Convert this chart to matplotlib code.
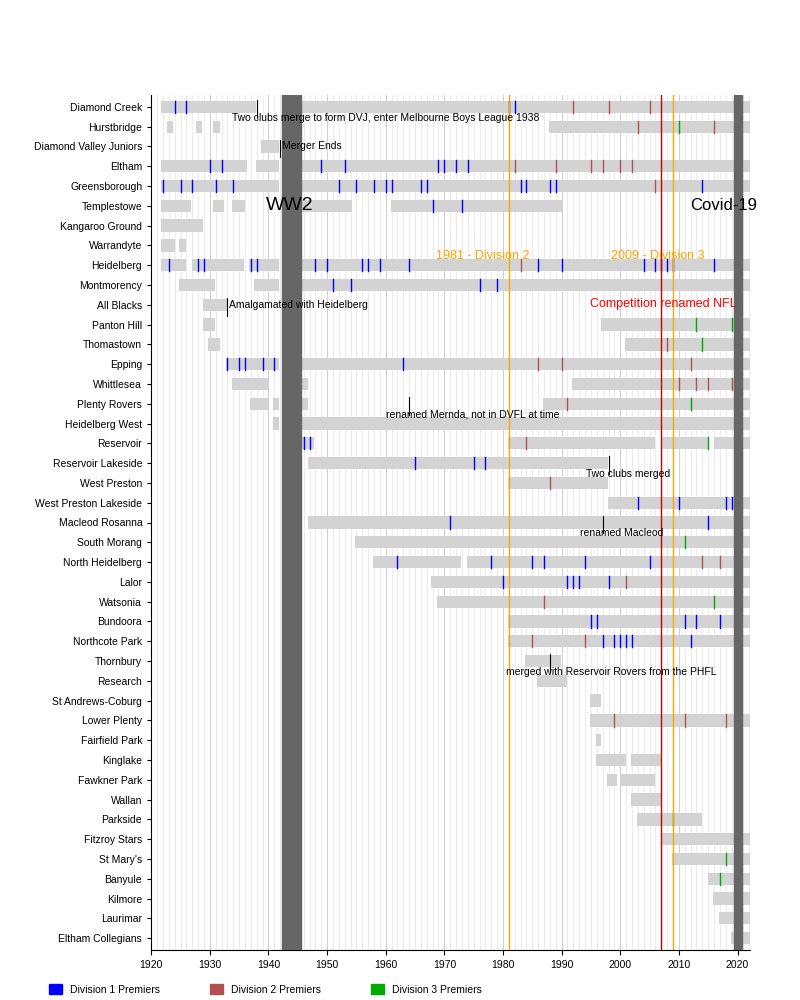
import matplotlib
matplotlib.use("Agg")
import matplotlib.pyplot as plt
from matplotlib.patches import Patch
plt.rcParams['font.family'] = ['Liberation Sans', 'DejaVu Sans']

clubs = ["Diamond Creek","Hurstbridge","Diamond Valley Juniors","Eltham","Greensborough","Templestowe",
 "Kangaroo Ground","Warrandyte","Heidelberg","Montmorency","All Blacks","Panton Hill","Thomastown",
 "Epping","Whittlesea","Plenty Rovers","Heidelberg West","Reservoir","Reservoir Lakeside","West Preston",
 "West Preston Lakeside","Macleod Rosanna","South Morang","North Heidelberg","Lalor","Watsonia","Bundoora",
 "Northcote Park","Thornbury","Research","St Andrews-Coburg","Lower Plenty","Fairfield Park","Kinglake",
 "Fawkner Park","Wallan","Parkside","Fitzroy Stars","St Mary's","Banyule","Kilmore","Laurimar","Eltham Collegians"]

seasons = {
 "Diamond Creek":[(1921.7,1937.8),(1945.6,2022.2)],
 "Hurstbridge":[(1922.7,1923.7),(1927.7,1928.7),(1930.5,1931.7),(1987.9,2022.2)],
 "Diamond Valley Juniors":[(1938.8,1941.8)],
 "Eltham":[(1921.7,1936.3),(1937.8,1941.8),(1945.6,2022.2)],
 "Greensborough":[(1921.7,1941.8),(1945.6,2022.2)],
 "Templestowe":[(1921.7,1926.8),(1930.5,1932.5),(1933.7,1936),(1945.6,1954.2),(1960.9,1990)],
 "Kangaroo Ground":[(1921.7,1928.9)],
 "Warrandyte":[(1921.7,1924),(1924.7,1926)],
 "Heidelberg":[(1921.7,1925.9),(1927,1935.8),(1936.6,1941.8),(1945.6,2022.2)],
 "Montmorency":[(1924.8,1930.9),(1937.5,1941.8),(1945.6,2022.2)],
 "All Blacks":[(1928.8,1932.9)],
 "Panton Hill":[(1928.8,1930.9),(1996.8,2022.2)],
 "Thomastown":[(1929.7,1931.8),(2000.8,2022.2)],
 "Epping":[(1932.8,1941.8),(1945.6,2022.2)],
 "Whittlesea":[(1933.8,1939.9),(1945.6,1946.8),(1991.8,2022.2)],
 "Plenty Rovers":[(1936.8,1939.9),(1940.8,1941.8),(1945.6,1946.8),(1986.8,2022.2)],
 "Heidelberg West":[(1940.8,1941.8),(1945.6,2022.2)],
 "Reservoir":[(1945.4,1947.8),(1980.9,2006),(2007,2015),(2016,2022.2)],
 "Reservoir Lakeside":[(1946.8,1997.9)],
 "West Preston":[(1980.9,1997.9)],
 "West Preston Lakeside":[(1997.9,2022.2)],
 "Macleod Rosanna":[(1946.8,2022.2)],
 "South Morang":[(1954.8,2022.2)],
 "North Heidelberg":[(1957.8,1972.9),(1973.8,2022.2)],
 "Lalor":[(1967.8,2022.2)],
 "Watsonia":[(1968.8,2022.2)],
 "Bundoora":[(1980.9,2022.2)],
 "Northcote Park":[(1980.9,2022.2)],
 "Thornbury":[(1983.8,1989.9)],
 "Research":[(1985.8,1990.9)],
 "St Andrews-Coburg":[(1994.8,1996.8)],
 "Lower Plenty":[(1994.8,2022.2)],
 "Fairfield Park":[(1995.8,1996.8)],
 "Kinglake":[(1995.8,2000.9),(2001.8,2006.9)],
 "Fawkner Park":[(1997.8,1999.4),(2000.2,2006)],
 "Wallan":[(2001.8,2006.9)],
 "Parkside":[(2002.8,2013.9)],
 "Fitzroy Stars":[(2006.9,2022.2)],
 "St Mary's":[(2008.9,2022.2)],
 "Banyule":[(2014.9,2022.2)],
 "Kilmore":[(2015.9,2022.2)],
 "Laurimar":[(2016.9,2022.2)],
 "Eltham Collegians":[(2018.9,2022.2)],
}

div1 = {
 "Diamond Creek":[1924,1926,1981,1982],
 "Eltham":[1930,1932,1949,1953,1969,1970,1972,1974],
 "Greensborough":[1922,1925,1927,1931,1934,1952,1955,1958,1960,1961,1966,1967,1983,1984,1988,1989,2014],
 "Templestowe":[1968,1973],
 "Heidelberg":[1923,1928,1929,1937,1938,1948,1950,1956,1957,1959,1964,1986,1990,2004,2006,2007,2008,2009,2016],
 "Montmorency":[1951,1954,1976,1979],
 "Epping":[1933,1935,1936,1939,1941,1963],
 "Reservoir":[1946,1947],
 "Reservoir Lakeside":[1965,1975,1977],
 "West Preston Lakeside":[2003,2010,2018,2019],
 "Macleod Rosanna":[1971,2015],
 "North Heidelberg":[1962,1978,1985,1987,1994,2005],
 "Lalor":[1980,1991,1992,1993,1998],
 "Bundoora":[1995,1996,2011,2013,2017],
 "Northcote Park":[1997,1999,2000,2001,2002,2012],
}
div2 = {
 "Diamond Creek":[1992,1998,2005],
 "Hurstbridge":[2003,2016],
 "Eltham":[1982,1989,1995,1997,2000,2002],
 "Greensborough":[2006],
 "Heidelberg":[1983],
 "Thomastown":[2008],
 "Epping":[1986,1990,2012],
 "Whittlesea":[2010,2013,2015,2019],
 "Plenty Rovers":[1991],
 "Reservoir":[1984],
 "West Preston":[1988],
 "North Heidelberg":[2014,2017],
 "Lalor":[2001],
 "Watsonia":[1987],
 "Northcote Park":[1985,1994],
 "Lower Plenty":[1999,2011,2018],
}
div3 = {
 "Hurstbridge":[2010],
 "Panton Hill":[2013,2019],
 "Thomastown":[2014],
 "Plenty Rovers":[2012],
 "Reservoir":[2015],
 "South Morang":[2011],
 "Watsonia":[2016],
 "Parkside":[2009],
 "St Mary's":[2018],
 "Banyule":[2017],
}

notes = [("Diamond Creek",1938,"Two clubs merge to form DVJ, enter Melbourne Boys League 1938"),
 ("Diamond Valley Juniors",1942,"Merger Ends"),
 ("All Blacks",1933,"Amalgamated with Heidelberg"),
 ("Plenty Rovers",1964,"renamed Mernda, not in DVFL at time"),
 ("Reservoir Lakeside",1998,"Two clubs merged"),
 ("Macleod Rosanna",1997,"renamed Macleod"),
 ("Thornbury",1988,"merged with Reservoir Rovers from the PHFL")]

fs = 7.5
fig = plt.figure(figsize=(8,10), dpi=100)
ax = fig.add_axes([0.189,0.05,0.749,0.855])
n = len(clubs)
yi = {c:i for i,c in enumerate(clubs)}
ax.set_xlim(1920,2022.2)
ax.set_ylim(n-0.4,-0.6)

for yr in range(1921,2023):
    ax.axvline(yr, color="#d0d0d0" if yr%10==0 else "#ececec", lw=0.8, zorder=0)

h=0.62
for c,segs in seasons.items():
    for a,b in segs:
        ax.barh(yi[c], b-a, left=a, height=h, color="#d3d3d3", zorder=1)
for d,col in ((div1,"#0000ff"),(div2,"#b05050"),(div3,"#00aa00")):
    for c,yrs in d.items():
        for yr in yrs:
            ax.plot([yr,yr],[yi[c]-h/2,yi[c]+h/2], color=col, lw=1, zorder=2)

ax.axvspan(1942.3,1945.6, color="#666666", zorder=3)
ax.axvspan(2019.4,2020.7, color="#666666", zorder=3)
ax.axvline(1981, color="orange", lw=1, zorder=2)
ax.axvline(2009, color="orange", lw=1, zorder=2)
ax.axvline(2007, color="#cc0000", lw=1, zorder=2)

ax.text(1939.5, yi["Templestowe"], "WW2", fontsize=14, va="center", zorder=5)
ax.text(2012, yi["Templestowe"], "Covid-19", fontsize=12, va="center", zorder=5)
ax.text(1968.5, yi["Warrandyte"]+0.55, "1981 - Division 2", fontsize=9, color="orange", va="center", zorder=5)
ax.text(1998.5, yi["Warrandyte"]+0.55, "2009 - Division 3", fontsize=9, color="orange", va="center", zorder=5)
ax.text(1994.8, yi["All Blacks"]-0.05, "Competition renamed NFL", fontsize=9, color="red", va="center", zorder=5)

for c,yr,t in notes:
    y = yi[c]
    ax.plot([yr,yr],[y-0.35,y+0.55], color="black", lw=0.8, zorder=4)
    if c in ("Diamond Valley Juniors","All Blacks"):
        ax.text(yr+0.3, y, t, fontsize=fs, va="center", zorder=5)
    elif c == "Diamond Creek":
        ax.text(1933.8, y+0.55, t, fontsize=fs, va="center", zorder=5)
    else:
        ax.text(yr-3.9 if c!="Thornbury" else yr-7.4, y+0.55, t, fontsize=fs, va="center", zorder=5)

ax.set_yticks(range(n))
ax.set_yticklabels(clubs, fontsize=fs)
ax.set_xticks(range(1920,2021,10))
ax.tick_params(axis="x", labelsize=fs)
ax.tick_params(axis="y", length=3)
for s in ("top","right"):
    ax.spines[s].set_visible(False)

handles=[Patch(color="#0000ff",label="Division 1 Premiers"),Patch(color="#b05050",label="Division 2 Premiers"),
         Patch(color="#00aa00",label="Division 3 Premiers")]
fig.legend(handles=handles, loc="lower left", bbox_to_anchor=(0.05,-0.004), ncol=3, frameon=False,
           fontsize=fs, handlelength=1.2, handleheight=1.2, columnspacing=4.8)
fig.savefig("out.png")
